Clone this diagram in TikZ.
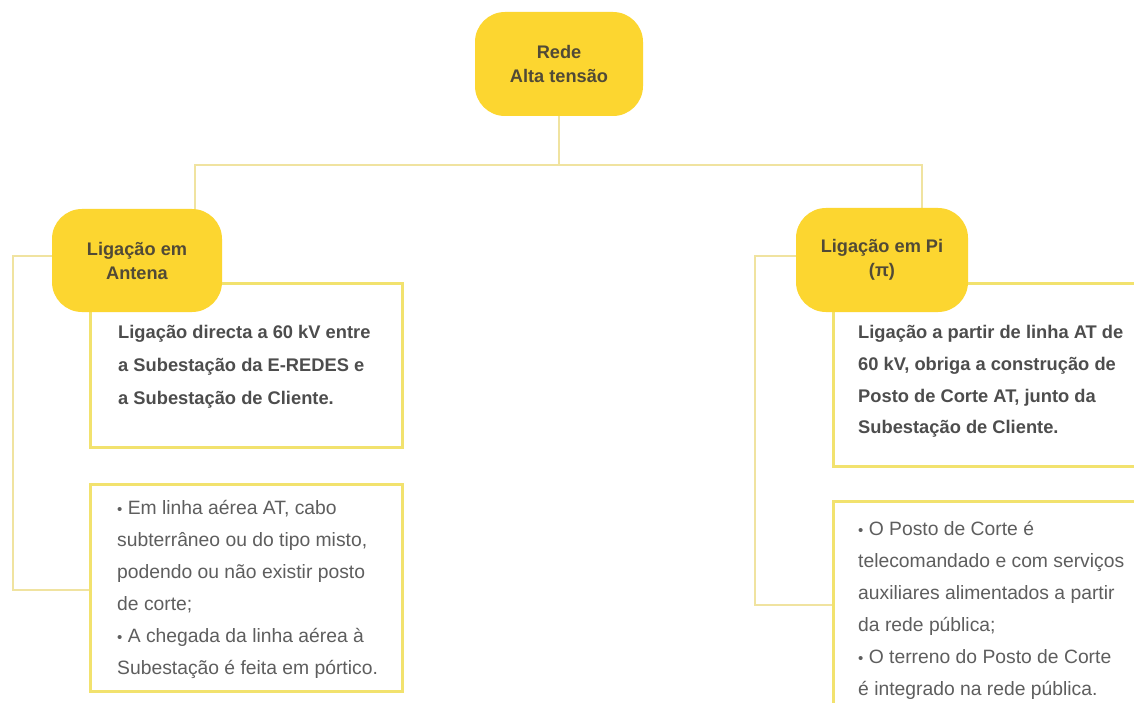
\documentclass[tikz,border=0pt]{standalone}
\usepackage{fontspec}
\setmainfont{Liberation Sans}
\definecolor{nodeyellow}{HTML}{FCD630}
\definecolor{boxline}{HTML}{F2E26E}
\definecolor{connline}{HTML}{F0E3A0}
\definecolor{nodetext}{HTML}{514A36}
\definecolor{boldtext}{HTML}{4D4D4D}
\definecolor{plaintext}{HTML}{5E5E5E}
\newcommand{\firstline}{\rule{0pt}{16pt}}
\newcommand{\smallbullet}{{\fontsize{15}{15}\selectfont •}}
\pgfdeclarelayer{background}
\pgfsetlayers{background,main}
\tikzset{
  pill/.style={fill=nodeyellow, draw=none, rounded corners=30pt, inner sep=0pt,
    text=nodetext, align=center, font=\fontsize{18.2}{24}\selectfont\bfseries},
  infobox/.style={draw=boxline, line width=3pt, fill=white, inner sep=0pt},
  conn/.style={draw=connline, line width=2pt},
  boldtxt/.style={anchor=north west, inner sep=0pt, align=left, text=boldtext,
    font=\fontsize{18.3}{#1}\selectfont\bfseries},
  plaintxt/.style={anchor=north west, inner sep=0pt, align=left, text=plaintext,
    font=\fontsize{19.3}{32}\selectfont}
}
\begin{document}
\begin{tikzpicture}[x=1pt,y=-1pt]
\useasboundingbox (0,0) rectangle (1134,703);
\clip (0,0) rectangle (1134,703);

% detail boxes
\node[infobox, minimum width=312pt, minimum height=164pt] (lbox1) at (246,365) {};
\node[infobox, minimum width=312pt, minimum height=207pt] (lbox2) at (246,587.5) {};
\node[infobox, minimum width=317pt, minimum height=183pt] (rbox1) at (991.5,374.5) {};
\node[infobox, minimum width=317pt, minimum height=219pt] (rbox2) at (991.5,610.5) {};

% box texts
\node[boldtxt=33pt] (lbox1text) at (118,322.4) {\firstline Ligação directa a 60 kV entre\\a Subestação da E-REDES e\\a Subestação de Cliente.};
\node[boldtxt=31.7pt] (rbox1text) at (858,322.4) {\firstline Ligação a partir de linha AT de\\60 kV, obriga a construção de\\Posto de Corte AT, junto da\\Subestação de Cliente.};
\node[plaintxt] (lbox2text) at (117,497.8) {\firstline \smallbullet\ Em linha aérea AT, cabo\\subterrâneo ou do tipo misto,\\podendo ou não existir posto\\de corte;\\\smallbullet\ A chegada da linha aérea à\\Subestação é feita em pórtico.};
\node[plaintxt] (rbox2text) at (858,518.8) {\firstline \smallbullet\ O Posto de Corte é\\telecomandado e com serviços\\auxiliares alimentados a partir\\da rede pública;\\\smallbullet\ O terreno do Posto de Corte\\é integrado na rede pública.};

% main nodes
\node[pill, minimum width=168pt, minimum height=104pt] (top) at (559,64) {Rede\\Alta tensão};
\node[pill, minimum width=170pt, minimum height=103pt] (lnode) at (137,260.5) {Ligação em\\Antena};
\node[pill, minimum width=172pt, minimum height=104pt] (rnode) at (882,260) {Ligação em Pi\\(π)};

% connectors
\coordinate (hub) at (559,165);
\coordinate (lcorner) at (13,590);
\coordinate (rcorner) at (755,605);
\begin{pgfonlayer}{background}
\fill[white] (0,0) rectangle (1134,703);
\draw[conn] (top.south) -- (hub);
\draw[conn] ([xshift=58pt]lnode.north) |- (hub) -| ([xshift=40pt]rnode.north);
\draw[conn] ([yshift=4.5pt]lnode.west) -| (lcorner) -- (lbox2.west |- lcorner);
\draw[conn] ([yshift=4.5pt]rnode.west) -| (rcorner) -- (rbox2.west |- rcorner);
\end{pgfonlayer}
\end{tikzpicture}
\end{document}
